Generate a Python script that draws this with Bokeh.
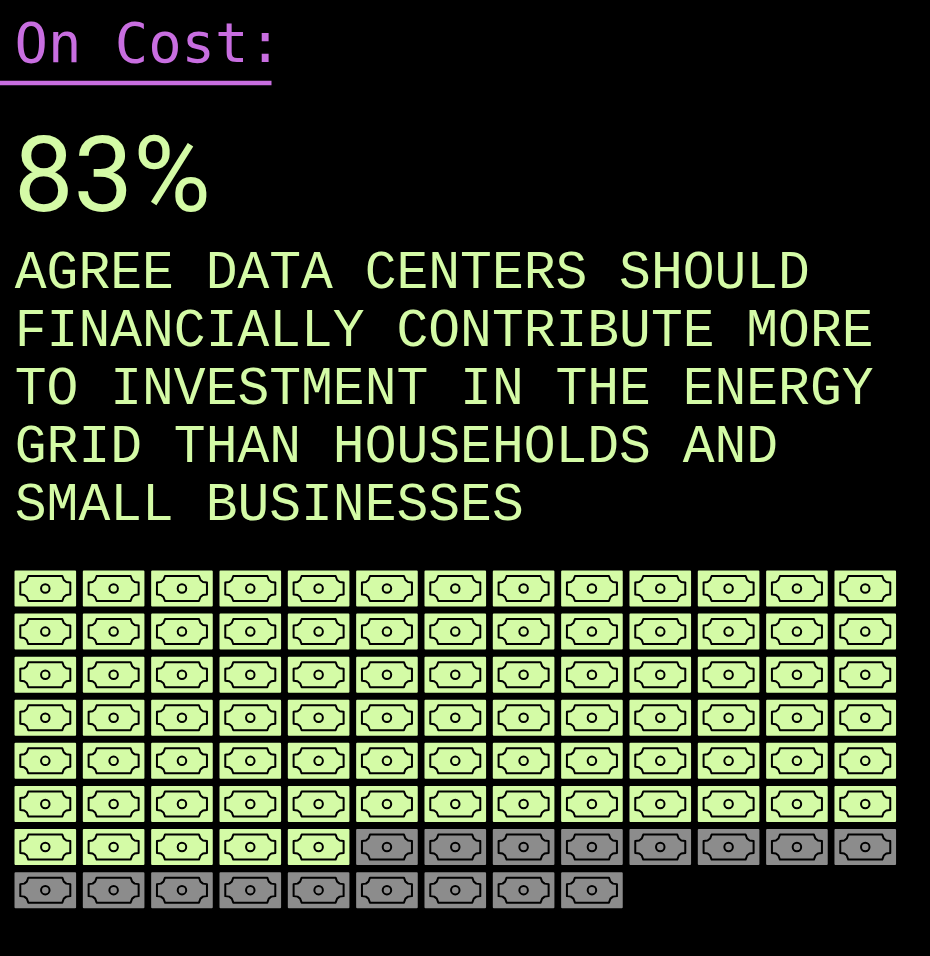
from bokeh.plotting import figure
from bokeh.embed import file_html
from bokeh.resources import INLINE
from bokeh.core.properties import value
from bokeh.models import Range1d

BG = "#000000"
GREEN = "#d4fba6"
GREY = "#8c8c8c"
PURPLE = "#c86ee0"

heading = "On Cost:"
big_number = "83%"
body_lines = [
    "AGREE DATA CENTERS SHOULD",
    "FINANCIALLY CONTRIBUTE MORE",
    "TO INVESTMENT IN THE ENERGY",
    "GRID THAN HOUSEHOLDS AND",
    "SMALL BUSINESSES",
]
agree_count = 83
total_count = 100
per_row = 13

W, H = 932, 958
p = figure(width=W, height=H, x_range=Range1d(-1, W - 1), y_range=Range1d(H - 1, -1),
           output_backend="svg", toolbar_location=None, min_border=0,
           background_fill_color=BG, border_fill_color=BG, outline_line_color=None)
p.axis.visible = False
p.grid.visible = False
p.styles = {"position": "fixed", "left": "-1px", "top": "-1px"}

p.text([14], [41.5], text=[heading], text_font=value("DejaVu Sans Mono"), text_font_size="55.5px",
       text_color=PURPLE, text_baseline="middle")
p.segment([-1], [82.5], [271], [82.5], line_color=PURPLE, line_width=4.5)
p.text([13.5], [174], text=[big_number], text_font=value("Roboto"), text_font_size="106px",
       text_color=GREEN, text_baseline="middle")
p.text([14.3] * len(body_lines), [273.5 + 58 * i for i in range(len(body_lines))], text=body_lines,
       text_font=value("Liberation Mono"), text_font_size="53px", text_color=GREEN,
       text_baseline="middle")

CX0, CY0, DX, DY, CW, CH = 44.8, 588, 68.33, 43.09, 61.6, 36
OUT_TL = [(-25, -6), (-21, -6.5), (-18.5, -8.5), (-17, -12.5)]
OUT = (OUT_TL
       + [(-a, b) for a, b in reversed(OUT_TL)]
       + [(-a, -b) for a, b in OUT_TL]
       + [(a, -b) for a, b in reversed(OUT_TL)])
cx, cy, colors, xs, ys = [], [], [], [], []
for i in range(total_count):
    r, c = divmod(i, per_row)
    x, y = CX0 + c * DX, CY0 + r * DY
    cx.append(x); cy.append(y)
    colors.append(GREEN if i < agree_count else GREY)
    xs.append([x + a for a, b in OUT]); ys.append([y + b for a, b in OUT])
p.rect(cx, cy, width=CW - 2, height=CH - 2, fill_color=colors, line_color=colors,
       line_width=2, line_join="round")
p.patches(xs, ys, fill_color=None, line_color="#000000", line_width=2, line_join="round")
p.scatter(cx, cy, size=8.5, marker="circle", fill_color=None, line_color="#000000", line_width=2)

open("out.html", "w").write(file_html(p, INLINE))
